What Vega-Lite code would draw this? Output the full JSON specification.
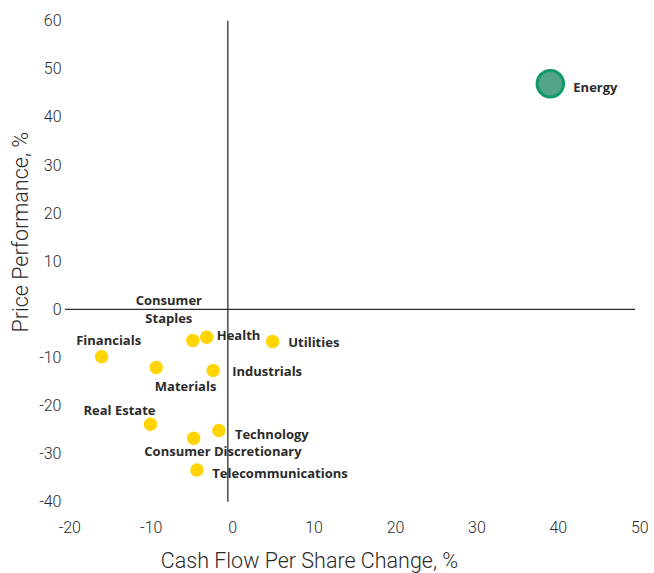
{
  "$schema": "https://vega.github.io/schema/vega-lite/v6.json",
  "width": 570,
  "height": 481,
  "autosize": {"type": "none"},
  "padding": {"left": 65, "top": 20.7, "right": 19, "bottom": 71.3},
  "config": {"view": {"stroke": null}},
  "data": {
    "values": [
      {"name": "Energy", "label": "Energy", "cf": 39.6, "price": 46.9},
      {"name": "Financials", "label": "Financials", "cf": -15.5, "price": -9.85},
      {"name": "Materials", "label": "Materials", "cf": -8.8, "price": -12.1},
      {"name": "Consumer Staples", "label": "Consumer\nStaples", "cf": -4.3, "price": -6.5},
      {"name": "Health", "label": "Health", "cf": -2.6, "price": -5.8},
      {"name": "Utilities", "label": "Utilities", "cf": 5.5, "price": -6.7},
      {"name": "Industrials", "label": "Industrials", "cf": -1.8, "price": -12.7},
      {"name": "Real Estate", "label": "Real Estate", "cf": -9.5, "price": -23.9},
      {"name": "Consumer Discretionary", "label": "Consumer Discretionary", "cf": -4.2, "price": -26.8},
      {"name": "Technology", "label": "Technology", "cf": -1.1, "price": -25.2},
      {"name": "Telecommunications", "label": "Telecommunications", "cf": -3.8, "price": -33.4}
    ]
  },
  "layer": [
    {
      "data": {"values": [{"z": 0}]},
      "mark": {"type": "rule", "color": "#2d2d2d", "strokeWidth": 1.3},
      "encoding": {"x": {"field": "z", "type": "quantitative"}}
    },
    {
      "data": {"values": [{"z": 0}]},
      "mark": {"type": "rule", "color": "#2d2d2d", "strokeWidth": 1.3},
      "encoding": {"y": {"field": "z", "type": "quantitative"}}
    },
    {
      "transform": [{"filter": "datum.name !== 'Energy'"}],
      "mark": {"type": "circle", "color": "#FFD400", "opacity": 1, "size": 180},
      "encoding": {
        "x": {
          "field": "cf", "type": "quantitative",
          "scale": {"domain": [-20, 50], "nice": false, "zero": false},
          "axis": {
            "values": [-20, -10, 0, 10, 20, 30, 40, 50],
            "labelExpr": "'' + datum.value",
            "domain": false, "ticks": false, "grid": false,
            "labelOffset": 4.3, "labelBaseline": "middle", "labelPadding": 26, "labelFlush": false,
            "labelFont": "Roboto", "labelFontWeight": 300, "labelFontSize": 16, "labelColor": "#2b2b2b",
            "title": "Cash Flow Per Share Change, %",
            "titleFont": "Roboto", "titleFontWeight": 300, "titleFontSize": 21.5, "titleColor": "#2b2b2b",
            "titleX": 244, "titleY": 60, "titleBaseline": "middle", "titleAlign": "center"
          }
        },
        "y": {
          "field": "price", "type": "quantitative",
          "scale": {"domain": [-40, 60], "nice": false, "zero": false},
          "axis": {
            "values": [-40, -30, -20, -10, 0, 10, 20, 30, 40, 50, 60],
            "labelExpr": "'' + datum.value",
            "domain": false, "ticks": false, "grid": false,
            "labelPadding": 4, "labelFlush": false, "labelBaseline": "middle",
            "labelFont": "Roboto", "labelFontWeight": 300, "labelFontSize": 16, "labelColor": "#2b2b2b",
            "title": "Price Performance, %",
            "titleFont": "Roboto", "titleFontWeight": 300, "titleFontSize": 21.5, "titleColor": "#2b2b2b",
            "titleX": -44, "titleY": 211, "titleBaseline": "middle", "titleAlign": "center", "titleAngle": -90
          }
        }
      }
    },
    {
      "transform": [{"filter": "datum.name === 'Energy'"}],
      "mark": {"type": "circle", "fill": "#52A585", "stroke": "#119A6B", "strokeWidth": 3, "opacity": 1, "fillOpacity": 1, "size": 700},
      "encoding": {
        "x": {"field": "cf", "type": "quantitative"},
        "y": {"field": "price", "type": "quantitative"}
      }
    },
    {
      "transform": [{"filter": "datum.name === 'Energy'"}],
      "mark": {"type": "text", "align": "left", "baseline": "middle", "dx": 23, "dy": 4.6, "font": "Open Sans", "fontWeight": "bold", "fontSize": 13, "color": "#2b2b2b"},
      "encoding": {"x": {"field": "cf", "type": "quantitative"}, "y": {"field": "price", "type": "quantitative"}, "text": {"field": "label"}}
    },
    {
      "transform": [{"filter": "datum.name === 'Health'"}],
      "mark": {"type": "text", "align": "left", "baseline": "middle", "dx": 10, "dy": -1.6, "font": "Open Sans", "fontWeight": "bold", "fontSize": 13, "color": "#2b2b2b"},
      "encoding": {"x": {"field": "cf", "type": "quantitative"}, "y": {"field": "price", "type": "quantitative"}, "text": {"field": "label"}}
    },
    {
      "transform": [{"filter": "datum.name === 'Utilities'"}],
      "mark": {"type": "text", "align": "left", "baseline": "middle", "dx": 15.6, "dy": 1.6, "font": "Open Sans", "fontWeight": "bold", "fontSize": 13, "color": "#2b2b2b"},
      "encoding": {"x": {"field": "cf", "type": "quantitative"}, "y": {"field": "price", "type": "quantitative"}, "text": {"field": "label"}}
    },
    {
      "transform": [{"filter": "datum.name === 'Industrials'"}],
      "mark": {"type": "text", "align": "left", "baseline": "middle", "dx": 19, "dy": 1.4, "font": "Open Sans", "fontWeight": "bold", "fontSize": 13, "color": "#2b2b2b"},
      "encoding": {"x": {"field": "cf", "type": "quantitative"}, "y": {"field": "price", "type": "quantitative"}, "text": {"field": "label"}}
    },
    {
      "transform": [{"filter": "datum.name === 'Technology'"}],
      "mark": {"type": "text", "align": "left", "baseline": "middle", "dx": 16, "dy": 4.7, "font": "Open Sans", "fontWeight": "bold", "fontSize": 13, "color": "#2b2b2b"},
      "encoding": {"x": {"field": "cf", "type": "quantitative"}, "y": {"field": "price", "type": "quantitative"}, "text": {"field": "label"}}
    },
    {
      "transform": [{"filter": "datum.name === 'Telecommunications'"}],
      "mark": {"type": "text", "align": "left", "baseline": "middle", "dx": 15.4, "dy": 3.6, "font": "Open Sans", "fontWeight": "bold", "fontSize": 13, "color": "#2b2b2b"},
      "encoding": {"x": {"field": "cf", "type": "quantitative"}, "y": {"field": "price", "type": "quantitative"}, "text": {"field": "label"}}
    },
    {
      "transform": [{"filter": "datum.name === 'Financials'"}],
      "mark": {"type": "text", "align": "center", "baseline": "middle", "dx": 7, "dy": -16, "font": "Open Sans", "fontWeight": "bold", "fontSize": 13, "color": "#2b2b2b"},
      "encoding": {"x": {"field": "cf", "type": "quantitative"}, "y": {"field": "price", "type": "quantitative"}, "text": {"field": "label"}}
    },
    {
      "transform": [{"filter": "datum.name === 'Materials'"}],
      "mark": {"type": "text", "align": "center", "baseline": "middle", "dx": 29.4, "dy": 19.4, "font": "Open Sans", "fontWeight": "bold", "fontSize": 13, "color": "#2b2b2b"},
      "encoding": {"x": {"field": "cf", "type": "quantitative"}, "y": {"field": "price", "type": "quantitative"}, "text": {"field": "label"}}
    },
    {
      "transform": [{"filter": "datum.name === 'Real Estate'"}],
      "mark": {"type": "text", "align": "center", "baseline": "middle", "dx": -31, "dy": -13.3, "font": "Open Sans", "fontWeight": "bold", "fontSize": 13, "color": "#2b2b2b"},
      "encoding": {"x": {"field": "cf", "type": "quantitative"}, "y": {"field": "price", "type": "quantitative"}, "text": {"field": "label"}}
    },
    {
      "transform": [{"filter": "datum.name === 'Consumer Discretionary'"}],
      "mark": {"type": "text", "align": "center", "baseline": "middle", "dx": 29.3, "dy": 13.7, "font": "Open Sans", "fontWeight": "bold", "fontSize": 13, "color": "#2b2b2b"},
      "encoding": {"x": {"field": "cf", "type": "quantitative"}, "y": {"field": "price", "type": "quantitative"}, "text": {"field": "label"}}
    },
    {
      "transform": [{"filter": "datum.name === 'Consumer Staples'"}],
      "mark": {"type": "text", "align": "center", "baseline": "middle", "dx": -24, "dy": -40, "lineBreak": "\n", "lineHeight": 18.6, "font": "Open Sans", "fontWeight": "bold", "fontSize": 13, "color": "#2b2b2b"},
      "encoding": {"x": {"field": "cf", "type": "quantitative"}, "y": {"field": "price", "type": "quantitative"}, "text": {"field": "label"}}
    }
  ]
}
